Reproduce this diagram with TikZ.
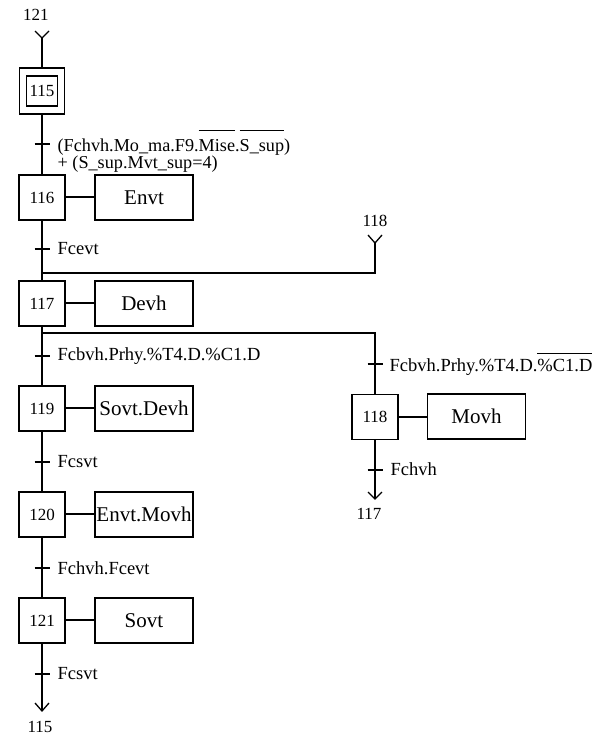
\documentclass[tikz,border=0pt]{standalone}
\usepackage{fontspec}
\setmainfont{Liberation Serif}
\newlength\ovlen
\newcommand\ovlA[2]{\settowidth\ovlen{#2}\rlap{\raisebox{#1}{\rule{\ovlen}{0.8pt}}}#2}
\begin{document}
\begin{tikzpicture}[x=1pt,y=-1pt, line width=1.3pt,
 stepbox/.style={draw, minimum width=46pt, minimum height=45pt, inner sep=0pt, font=\fontsize{17}{17}\selectfont},
 actbox/.style={draw, minimum width=98pt, minimum height=45pt, inner sep=0pt, font=\fontsize{21}{21}\selectfont},
 tlbl/.style={anchor=west, inner sep=0pt, font=\fontsize{18.5}{20}\selectfont},
 reflbl/.style={inner sep=0pt, font=\fontsize{17}{17}\selectfont}]
\useasboundingbox (0,0) rectangle (603,736);
% top entry
\node[reflbl] (r121) at (36,15) {121};
\coordinate (a1) at (42,38);
\draw (35,31) -- (a1) -- (49,31);
\node[draw, minimum width=45pt, minimum height=46pt, inner sep=0pt] (s115) at (42,91) {};
\node[stepbox, minimum width=31pt, minimum height=30pt] (s115i) at (42,91) {115};
\draw (a1) -- (s115.north);
% step 116
\node[stepbox] (s116) at (42,197.5) {116};
\node[actbox] (a116) at (144,197.5) {Envt};
\draw (s115.south) -- (s116.north);
\draw ([yshift=0.5pt]s116.east) -- ([yshift=0.5pt]a116.west);
\draw (34.5,144) -- (49.5,144);
\node[tlbl, font=\fontsize{18.2}{20}\selectfont, text depth=0pt] (t1a) at (57,141) {(Fchvh.Mo\_ma.F9.\ovlA{1.15em}{Mise}.\ovlA{1.15em}{S\_sup})};
\node[tlbl, font=\fontsize{18.2}{20}\selectfont, text height=11pt] (t1b) at (57,165) {+ (S\_sup.Mvt\_sup=4)};
% step 117
\node[stepbox] (s117) at (42,303.5) {117};
\node[actbox] (a117) at (144,303.5) {Devh};
\draw (s116.south) -- (s117.north);
\draw ([yshift=0.5pt]s117.east) -- ([yshift=0.5pt]a117.west);
\draw (34.5,249) -- (49.5,249);
\node[tlbl] (t2) at (57,249) {Fcevt};
% junction from 118
\coordinate (j1) at (42,273);
\coordinate (j1r) at (375,273);
\coordinate (a2) at (375,243);
\node[reflbl] (r118) at (375,221) {118};
\draw (j1) -- (j1r) -- (a2);
\draw (368,235) -- (a2) -- (382,235);
% divergence
\coordinate (d1) at (42,333);
\coordinate (d1r) at (375,333);
\node[stepbox] (s119) at (42,408.5) {119};
\node[actbox] (a119) at (144,408.5) {Sovt.Devh};
\node[stepbox] (s118) at (375,417) {118};
\node[actbox] (a118) at (476.5,416.5) {Movh};
\draw (s117.south) -- (s119.north);
\draw ([yshift=0.5pt]s119.east) -- ([yshift=0.5pt]a119.west);
\draw (d1) -- (d1r) -- (s118.north);
\draw (s118.east) -- (s118.east -| a118.west);
\draw (34.5,356) -- (49.5,356);
\node[tlbl] (t3) at (57,356) {Fcbvh.Prhy.\%T4.D.\%C1.D};
\draw (367.5,364) -- (382.5,364);
\node[tlbl] (t4) at (389,364) {Fcbvh.Prhy.\%T4.D.\ovlA{0.97em}{\%C1.D}};
% right exit
\coordinate (a3) at (375,499);
\draw (s118.south) -- (a3);
\draw (368,492) -- (a3) -- (382,492);
\draw (367.5,470) -- (382.5,470);
\node[tlbl] (t5) at (390,469) {Fchvh};
\node[reflbl] (r117) at (369,514) {117};
% step 120
\node[stepbox] (s120) at (42,514.5) {120};
\node[actbox] (a120) at (144,514.5) {Envt.Movh};
\draw (s119.south) -- (s120.north);
\draw ([yshift=0.5pt]s120.east) -- ([yshift=0.5pt]a120.west);
\draw (34.5,462) -- (49.5,462);
\node[tlbl] (t6) at (57,462) {Fcsvt};
% step 121
\node[stepbox] (s121) at (42,620.5) {121};
\node[actbox] (a121) at (144,620.5) {Sovt};
\draw (s120.south) -- (s121.north);
\draw ([yshift=0.5pt]s121.east) -- ([yshift=0.5pt]a121.west);
\draw (34.5,568) -- (49.5,568);
\node[tlbl] (t7) at (57,568) {Fchvh.Fcevt};
% bottom exit
\coordinate (a4) at (42,711);
\draw (s121.south) -- (a4);
\draw (35,703) -- (a4) -- (49,703);
\draw (34.5,674) -- (49.5,674);
\node[tlbl] (t8) at (57,674) {Fcsvt};
\node[reflbl] (r115) at (40,727) {115};
\end{tikzpicture}
\end{document}
